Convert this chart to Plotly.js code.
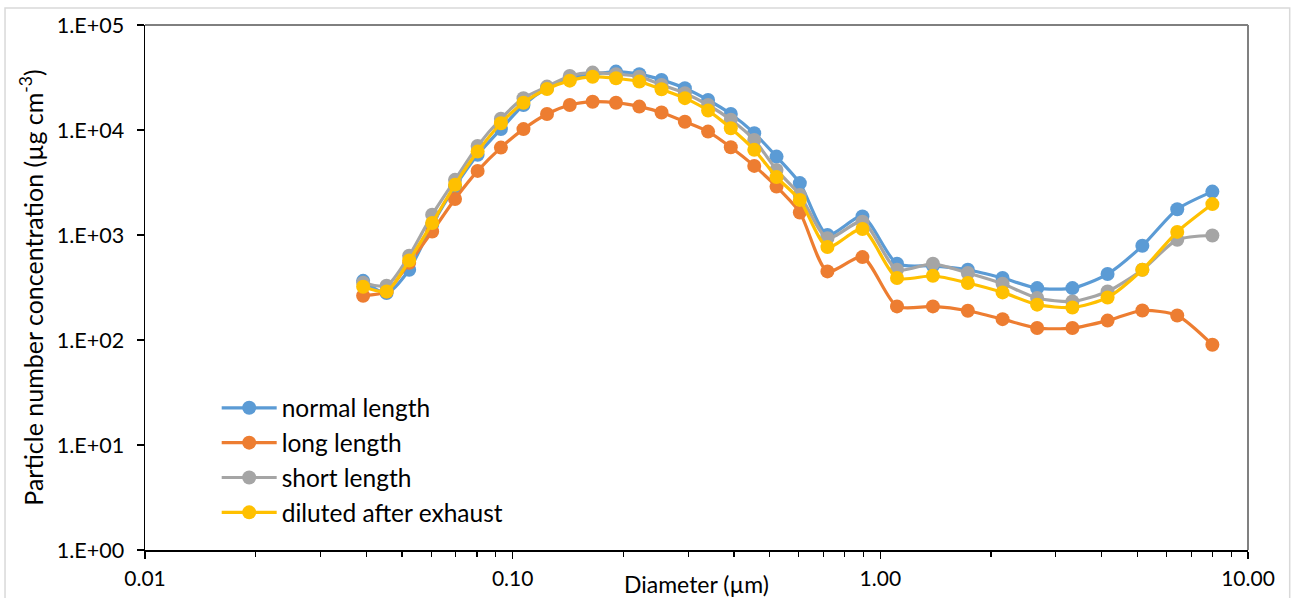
<!DOCTYPE html>
<html>
<head>
<meta charset="utf-8">
<script src="https://cdn.plot.ly/plotly-3.0.1.min.js"></script>
<style>
html,body{margin:0;padding:0;background:#fff;}
#chart{width:1291px;height:598px;}
</style>
</head>
<body>
<div id="chart"></div>
<script>
// Diameter (µm)
var diameter = [0.0392,0.0454,0.0523,0.0604,0.0697,0.0803,0.0929,0.107,0.124,0.143,0.165,0.191,0.221,0.254,0.294,0.340,0.392,0.454,0.522,0.604,0.718,0.894,1.11,1.39,1.73,2.15,2.67,3.33,4.15,5.16,6.42,8.00];
var normalLength = [366,280,467,1250,2890,5800,10200,17300,25000,31100,34000,36000,34000,30000,25000,19300,14200,9330,5580,3120,1000,1500,532,509,467,389,312,312,425,789,1760,2590];
var longLength = [264,290,543,1080,2200,4080,6800,10200,14200,17300,18600,18200,16700,14700,12000,9660,6860,4550,2890,1640,450,616,209,209,190,158,130,130,153,191,171,90];
var shortLength = [351,329,634,1560,3350,7060,12800,20100,25900,32700,35200,34000,32200,26900,22400,17300,12500,8050,4170,2410,933,1340,467,532,434,343,251,233,290,467,900,989];
var dilutedAfterExhaust = [321,290,572,1300,3010,6230,11600,18200,24600,29500,32200,31100,28900,24400,20100,15300,10400,6470,3560,2160,767,1140,389,409,349,284,217,204,254,467,1070,1970];

var seriesNames = ["normal length","long length","short length","diluted after exhaust"];
var seriesColors = ["#5B9BD5","#ED7D31","#A5A5A5","#FFC000"];
var seriesValues = [normalLength,longLength,shortLength,dilutedAfterExhaust];

var xTickVals = [0.01,0.1,1,10];
var xTickText = ["0.01","0.10","1.00","10.00"];
var yTickVals = [1,10,100,1000,10000,100000];
var yTickText = ["1.E+00","1.E+01","1.E+02","1.E+03","1.E+04","1.E+05"];

var FONT = "Lato, 'Open Sans', sans-serif";

var traces = seriesValues.map(function(v,i){
  return {
    x: diameter, y: v, type: "scatter", mode: "lines+markers",
    name: seriesNames[i], legendgroup: "g"+i,
    line: {color: seriesColors[i], width: 3.2, shape: "spline", smoothing: 0.7},
    marker: {color: seriesColors[i], size: 14, symbol: "circle"},
    hoverinfo: "x+y+name"
  };
});

var axisCommon = {showgrid:false, zeroline:false, showline:true, linecolor:"#000", linewidth:1.5,
  tickcolor:"#000", tickwidth:1.3};

var layout = {
  width:1291, height:598,
  margin:{l:145, r:43, t:25, b:48, pad:0},
  paper_bgcolor:"#fff", plot_bgcolor:"#fff",
  font:{family:FONT, color:"#000"},
  showlegend:true,
  legend:{x:0.065, xanchor:"left", y:0.3136, yanchor:"top", bgcolor:"rgba(0,0,0,0)",
    font:{family:FONT, size:24.5, color:"#000"}, itemwidth:55, traceorder:"grouped", tracegroupgap:0},
  xaxis: Object.assign({}, axisCommon, {
    type:"log", range:[-2,1], tickmode:"array", tickvals:xTickVals, ticktext:xTickText,
    ticks:"outside", ticklen:7, tickfont:{family:FONT, size:21, color:"#000"},
    ticklabelstandoff:2,
    minor:{ticks:"outside", ticklen:5, tickcolor:"#000", tickwidth:1.1, dtick:"D1", showgrid:false},
    title:{text:"Diameter (µm)", font:{family:FONT, size:23, color:"#000"}, standoff:0}
  }),
  xaxis2: {type:"log", range:[-2,1], overlaying:"x", anchor:"y", side:"bottom", showgrid:false, zeroline:false,
    showline:false, tickmode:"array", tickvals:xTickVals, ticks:"inside", ticklen:7, tickcolor:"#000", tickwidth:1.3,
    showticklabels:false,
    minor:{ticks:"inside", ticklen:5, tickcolor:"#000", tickwidth:1.1, dtick:"D1", showgrid:false}},
  yaxis: Object.assign({}, axisCommon, {
    type:"log", range:[0,5], tickmode:"array", tickvals:yTickVals, ticktext:yTickText,
    ticks:"outside", ticklen:7, tickfont:{family:FONT, size:21.5, color:"#000"},
    ticklabelstandoff:8,
    title:{text:"Particle number concentration (µg cm<sup>-3</sup>)", font:{family:FONT, size:25, color:"#000"}, standoff:6}
  }),
  yaxis2: {type:"log", range:[0,5], overlaying:"y", anchor:"x", side:"left", showgrid:false, zeroline:false,
    showline:false, tickmode:"array", tickvals:yTickVals, ticks:"inside", ticklen:7, tickcolor:"#000", tickwidth:1.3,
    showticklabels:false},
  shapes:[
    {type:"rect", xref:"paper", yref:"paper", x0:-0.1269, x1:1.0378, y0:-0.25, y1:1.0323,
      line:{color:"#D9D9D9", width:1.5}, fillcolor:"rgba(0,0,0,0)", layer:"below"},
    {type:"line", xref:"paper", yref:"paper", x0:0, x1:1, y0:1, y1:1, line:{color:"#000", width:1}},
    {type:"line", xref:"paper", yref:"paper", x0:1, x1:1, y0:0, y1:1, line:{color:"#808080", width:2}}
  ]
};

Plotly.newPlot("chart", traces, layout, {displayModeBar:false, staticPlot:true});
</script>
</body>
</html>
